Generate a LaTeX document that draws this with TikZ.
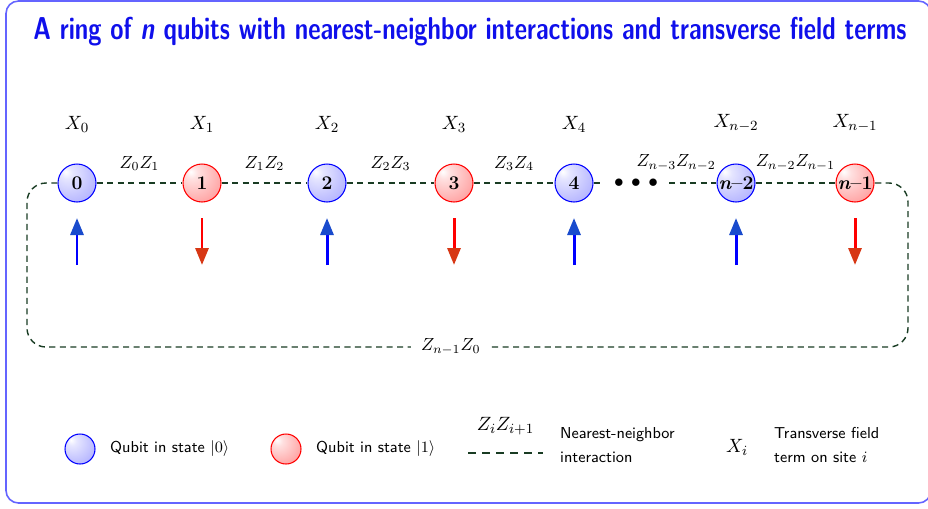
\documentclass[tikz,border=0pt]{standalone}
\usepackage{amsmath,amssymb}
\usetikzlibrary{arrows.meta,calc,positioning}
\definecolor{ringgreen}{RGB}{25,60,35}
\definecolor{frameblue}{RGB}{100,100,255}
\definecolor{titleblue}{RGB}{15,15,235}
\definecolor{upheadc}{RGB}{25,75,205}
\definecolor{downheadc}{RGB}{215,55,20}
\colorlet{zeroin}{blue!10}
\colorlet{zeroout}{blue!44}
\colorlet{onein}{red!12}
\colorlet{oneout}{red!55}
\pgfdeclareradialshading{zeroball}{\pgfpoint{-15bp}{15bp}}{%
  color(0bp)=(white); color(8bp)=(zeroin); color(58bp)=(zeroout); color(80bp)=(zeroout)}
\pgfdeclareradialshading{oneball}{\pgfpoint{-15bp}{15bp}}{%
  color(0bp)=(white); color(8bp)=(onein); color(58bp)=(oneout); color(80bp)=(oneout)}
\tikzset{
  qzero/.style={
    shape = circle,
    draw = blue,
    line width = 0.6pt,
    shading = zeroball,
    minimum size = 0.76cm,
    inner sep = 0pt,
    font = \fontsize{11}{13}\selectfont\bfseries
  },
  qone/.style={
    qzero,
    draw = red,
    shading = oneball
  },
  link/.style={
    draw = ringgreen,
    line width = 0.8pt,
    dash pattern = on 3.5pt off 2.5pt
  },
  spinup/.style={
    blue,
    line width = 1.7pt,
    -{Triangle[width=0.26cm,length=0.34cm,color=upheadc]}
  },
  spindown/.style={
    red,
    line width = 1.7pt,
    -{Triangle[width=0.26cm,length=0.34cm,color=downheadc]}
  },
  coupling/.style={
    above = 0.16cm,
    inner sep = 2pt,
    font = \fontsize{10}{12}\selectfont
  },
  xlab/.style={
    label distance = 0.5cm
  },
  legtext/.style={
    font = \fontsize{9}{13.5}\selectfont\sffamily,
    align = left
  }
}
\begin{document}
\begin{tikzpicture}[x=0.02cm, y=-0.02cm, font=\fontsize{11}{13}\selectfont]
  \useasboundingbox (0,0) rectangle (928,508);
  \draw[frameblue, line width=0.9pt, rounded corners=0.25cm] (6,1) rectangle (931,503);
  \node[titleblue, font=\fontsize{18}{22}\selectfont\sffamily\bfseries] (title) at (470,32)
    {\scalebox{0.76}[1]{A ring of \textsl{n} qubits with nearest-neighbor interactions and transverse field terms}};
  % qubits and spins
  \foreach \name/\x/\num/\site in {q0/77/0/0, q2/327/2/2, q4/574/4/4, qn2/736/{\textit{n}--2}/{n-2}}{
    \node[qzero, label={[xlab]above:$X_{\site}$}] (\name) at (\x,183) {\num};
    \draw[spinup] ($(\name)+(0,82)$) -- ($(\name)+(0,35)$);
  }
  \foreach \name/\x/\num/\site in {q1/202/1/1, q3/454/3/3, qn1/855/{\textit{n}--1}/{n-1}}{
    \node[qone, label={[xlab]above:$X_{\site}$}] (\name) at (\x,183) {\num};
    \draw[spindown] ($(\name)+(0,35)$) -- ($(\name)+(0,82)$);
  }
  % couplings
  \foreach \a/\b/\zz in {q0/q1/{Z_0Z_1}, q1/q2/{Z_1Z_2}, q2/q3/{Z_2Z_3}, q3/q4/{Z_3Z_4}, qn2/qn1/{Z_{n-2}Z_{n-1}}}
    \draw[link] (\a) -- node[coupling] {$\zz$} (\b);
  \coordinate (gapl) at (604,183);
  \coordinate (gapr) at (669,183);
  \node[inner sep=0pt] (dots) at (636,183) {$\bullet\,\bullet\,\bullet$};
  \draw[link] (q4) -- (gapl);
  \draw[link] (gapr) -- node[coupling, pos=0.15] {$Z_{n-3}Z_{n-2}$} (qn2);
  % closing the ring
  \coordinate (ringbl) at (27,347);
  \coordinate (ringbr) at (908,347);
  \draw[link, rounded corners=0.38cm] (q0) -| (ringbl)
    -- node[pos=0.481, fill=white, inner sep=0.2cm, font=\fontsize{10}{12}\selectfont] {$Z_{n-1}Z_0$} (ringbr) |- (qn1);
  % legend
  \node[qzero, minimum size=0.6cm] (legzero) at (80,449) {};
  \node[legtext, right=0.17cm of legzero] (legzerotext) {Qubit in state $|0\rangle$};
  \node[qone, minimum size=0.6cm] (legone) at (286,449) {};
  \node[legtext, right=0.17cm of legone] (legonetext) {Qubit in state $|1\rangle$};
  \coordinate (legl) at (468,453);
  \coordinate (legr) at (543,453);
  \draw[link, line width=1.2pt, dash pattern=on 4.5pt off 3.5pt] (legl) -- node[above=0.22cm] {$Z_iZ_{i+1}$} (legr);
  \node[legtext, anchor=west] (legzztext) at (554,445) {Nearest-neighbor\\interaction};
  \node (legx) at (737,447) {$X_i$};
  \node[legtext, anchor=west] (legxtext) at (768,445) {Transverse field\\term on site $i$};
\end{tikzpicture}
\end{document}
